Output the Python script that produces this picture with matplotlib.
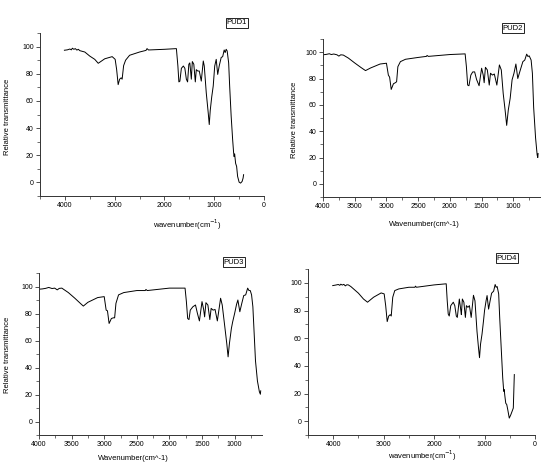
import numpy as np
import matplotlib
matplotlib.use("Agg")
import matplotlib.pyplot as plt
from matplotlib.ticker import MultipleLocator

plt.rcParams['font.family'] = ['Liberation Sans', 'DejaVu Sans']

# ---- data (wavenumber, relative transmittance) ----
pud1_wn = [4010, 3950, 3900, 3870, 3850, 3820, 3790, 3760, 3730, 3700, 3600, 3500, 3400, 3330,
           3200, 3050, 2990, 2960, 2930, 2900, 2870, 2850, 2820, 2780, 2700, 2500, 2370, 2350,
           2320, 2000, 1760, 1730, 1710, 1690, 1660, 1620, 1590, 1560, 1535, 1510, 1490, 1460,
           1440, 1410, 1380, 1360, 1330, 1300, 1260, 1220, 1200, 1160, 1120, 1100, 1080, 1050,
           1020, 990, 960, 930, 900, 860, 830, 800, 780, 760, 740, 710, 690, 660, 630, 610,
           600, 590, 570, 550, 530, 500, 470, 440, 420, 410]
pud1_t = [97.3, 97.6, 98.2, 97.6, 98.8, 98.0, 98.5, 97.4, 98.0, 97.0, 96.0, 93.0, 90.6, 87.7,
          91.0, 92.6, 90.6, 83.0, 72.0, 76.0, 77.0, 76.0, 86.0, 90.0, 93.6, 96.0, 97.2, 98.5,
          97.5, 98.0, 98.5, 85.7, 74.0, 74.5, 84.0, 85.7, 84.0, 76.0, 74.0, 87.0, 88.0, 76.0,
          89.0, 87.0, 74.0, 83.0, 82.0, 82.0, 74.6, 89.4, 85.7, 66.0, 51.0, 42.6, 53.0, 63.0,
          71.0, 85.7, 90.6, 79.5, 85.7, 92.0, 92.6, 97.5, 95.6, 98.0, 96.8, 88.0, 71.0, 49.0,
          31.5, 21.7, 19.0, 21.0, 14.0, 11.8, 4.4, 0.2, -0.5, 0.7, 3.2, 5.7]

pud2_wn = [4000, 3950, 3900, 3870, 3830, 3780, 3750, 3720, 3680, 3600, 3500, 3400, 3330, 3250,
           3100, 3000, 2970, 2950, 2925, 2890, 2860, 2840, 2820, 2780, 2700, 2500, 2370, 2360,
           2340, 2000, 1760, 1740, 1720, 1700, 1670, 1640, 1610, 1580, 1540, 1500, 1475, 1460,
           1440, 1410, 1380, 1360, 1330, 1300, 1260, 1220, 1190, 1160, 1130, 1105, 1080, 1050,
           1020, 990, 960, 930, 890, 850, 820, 790, 770, 750, 720, 700, 680, 650, 625, 615, 610]
pud2_t = [98.0, 98.3, 98.8, 98.2, 98.6, 98.0, 97.0, 98.0, 97.8, 95.5, 91.8, 88.3, 86.0, 88.0,
          91.0, 91.6, 82.6, 81.0, 71.7, 76.0, 76.8, 77.5, 89.0, 92.8, 94.6, 96.0, 96.8, 97.5,
          96.8, 98.2, 98.7, 89.0, 75.0, 74.5, 82.6, 85.0, 85.0, 79.3, 74.5, 87.8, 82.6, 76.8,
          88.5, 86.5, 75.0, 84.0, 82.6, 83.4, 75.0, 90.3, 86.5, 68.6, 56.0, 44.4, 56.0, 65.0,
          79.0, 84.0, 91.0, 80.0, 86.5, 92.8, 94.0, 98.5, 96.7, 97.2, 94.0, 84.0, 58.0, 35.0,
          22.0, 20.0, 23.0]

pud3_wn = [4000, 3950, 3900, 3850, 3800, 3760, 3720, 3690, 3650, 3550, 3450, 3350, 3320, 3250,
           3100, 3000, 2970, 2950, 2925, 2890, 2860, 2840, 2820, 2780, 2700, 2500, 2370, 2360,
           2340, 2000, 1760, 1740, 1720, 1700, 1680, 1640, 1600, 1570, 1540, 1500, 1475, 1460,
           1440, 1410, 1380, 1360, 1330, 1300, 1265, 1215, 1190, 1150, 1120, 1100, 1080, 1050,
           1030, 1000, 970, 950, 920, 890, 860, 830, 800, 780, 760, 740, 720, 700, 680, 650,
           620, 605, 600]
pud3_t = [98.0, 98.2, 98.6, 99.3, 98.5, 98.8, 97.5, 98.6, 98.8, 95.5, 91.3, 86.8, 85.5, 88.3,
          91.8, 92.5, 82.5, 82.0, 72.6, 76.3, 76.8, 76.8, 87.5, 93.8, 95.5, 97.0, 97.0, 97.8,
          97.0, 98.8, 98.8, 89.0, 76.3, 75.5, 82.5, 85.0, 86.3, 80.0, 74.5, 88.8, 83.0, 77.5,
          88.0, 86.3, 75.5, 83.8, 82.5, 83.0, 74.5, 91.3, 86.3, 70.0, 57.6, 47.9, 57.6, 68.8,
          73.8, 80.0, 86.8, 90.0, 81.3, 87.5, 93.3, 93.8, 98.8, 97.0, 97.0, 93.8, 85.0, 65.0,
          45.0, 30.0, 22.0, 20.2, 22.7]

pud4_wn = [4010, 3950, 3900, 3870, 3850, 3820, 3790, 3760, 3730, 3700, 3650, 3500, 3400, 3320,
           3200, 3050, 2990, 2960, 2930, 2900, 2870, 2850, 2820, 2780, 2700, 2500, 2380, 2370,
           2350, 2000, 1760, 1740, 1720, 1700, 1670, 1620, 1590, 1560, 1540, 1500, 1470, 1460,
           1440, 1410, 1380, 1360, 1330, 1300, 1265, 1220, 1190, 1150, 1120, 1100, 1080, 1050,
           1020, 1000, 970, 950, 920, 890, 860, 820, 790, 770, 750, 720, 700, 670, 640, 620,
           610, 600, 580, 560, 540, 510, 480, 450, 430, 410]
pud4_t = [98.0, 98.4, 98.8, 98.2, 99.0, 98.4, 98.9, 97.8, 98.6, 98.5, 97.3, 92.5, 88.3, 86.0,
          89.6, 92.7, 92.0, 83.5, 72.0, 76.0, 77.0, 76.0, 89.6, 94.4, 95.6, 96.8, 96.8, 97.6,
          96.8, 98.5, 99.3, 87.0, 77.4, 76.0, 83.5, 86.0, 83.5, 76.0, 75.0, 88.3, 80.0, 77.0,
          88.3, 86.0, 75.0, 83.5, 82.3, 83.5, 75.0, 91.0, 87.0, 65.0, 53.0, 45.9, 55.6, 63.0,
          72.8, 80.0, 87.0, 90.8, 81.0, 87.0, 92.5, 94.0, 98.8, 96.8, 97.3, 92.0, 75.0, 53.0,
          31.3, 21.6, 22.8, 19.0, 13.0, 12.0, 8.3, 2.2, 4.6, 7.5, 9.5, 33.7]

labels = ['PUD1', 'PUD2', 'PUD3', 'PUD4']
xlabels = ['wavenumber(cm$^{-1}$)', 'Wavenumber(cm^-1)', 'Wavenumber(cm^-1)', 'wavenumber(cm$^{-1}$)']
ylabels = ['Relative transmittance', 'Relative transmittance', 'Relative transmittance', None]

W, H = 544, 467
fig = plt.figure(figsize=(W / 100, H / 100), dpi=100)


def px_axes(left, top, right, bottom):
    return fig.add_axes([left / W, 1 - bottom / H, (right - left) / W, (bottom - top) / H])


def fig_text(x, y, s, **kw):
    fig.text(x / W, 1 - y / H, s, **kw)


# pixel boxes (left, top, right, bottom) of the four plot areas
boxes = [(40, 33, 264, 196), (323, 39, 540, 197), (39, 273, 262, 435), (308, 269, 535, 435)]
xlims = [(4500, 0), (4000, 580), (4000, 580), (4500, 0)]
xmajor = [1000, 500, 500, 1000]
series = [(pud1_wn, pud1_t), (pud2_wn, pud2_t), (pud3_wn, pud3_t), (pud4_wn, pud4_t)]
tag_pos = [(237, 23), (513, 28), (234, 262), (507, 258)]
xlab_pos = [(187, 225), (424, 225), (133, 458), (422, 456)]
ylab_pos = [(8, 117), (294, 120), (8, 355), None]

for i in range(4):
    ax = px_axes(*boxes[i])
    wn, t = series[i]
    ax.plot(wn, t, color='black', lw=0.7)
    ax.set_xlim(*xlims[i])
    ax.set_ylim(-10, 110)
    ax.xaxis.set_major_locator(MultipleLocator(xmajor[i]))
    ax.xaxis.set_minor_locator(MultipleLocator(xmajor[i] / 2))
    ax.yaxis.set_major_locator(MultipleLocator(20))
    ax.yaxis.set_minor_locator(MultipleLocator(10))
    ax.set_yticks([0, 20, 40, 60, 80, 100])
    for side in ['top', 'right']:
        ax.spines[side].set_visible(False)
    for side in ['left', 'bottom']:
        ax.spines[side].set_linewidth(0.7)
        ax.spines[side].set_color('#333333')
    ax.tick_params(which='major', direction='out', length=3, width=0.6, labelsize=5, pad=1.5,
                   color='#333333')
    ax.tick_params(which='minor', direction='out', length=2, width=0.5, color='#333333')
    ax.patch.set_alpha(0)

    fig_text(*tag_pos[i], labels[i], fontsize=5.5, ha='center', va='center',
             bbox=dict(boxstyle='square,pad=0.15', facecolor='white', edgecolor='black', lw=0.6))
    fig_text(*xlab_pos[i], xlabels[i], fontsize=5.5, ha='center', va='center')
    if ylabels[i]:
        fig_text(*ylab_pos[i], ylabels[i], fontsize=5.5, ha='center', va='center', rotation=90)

fig.savefig('out.png', dpi=100)
